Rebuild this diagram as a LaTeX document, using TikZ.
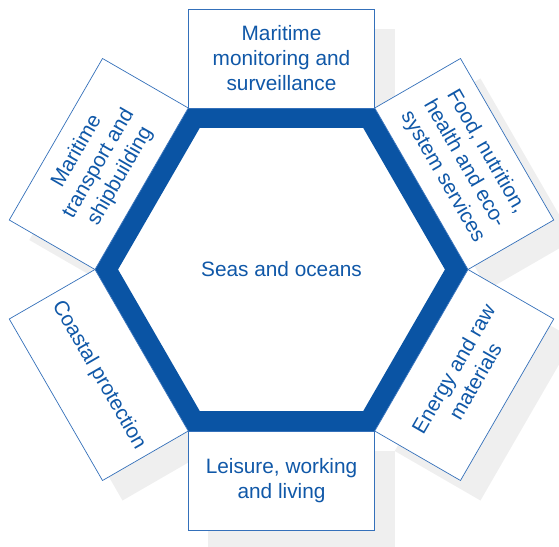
\documentclass[tikz,border=0pt]{standalone}
\usepackage{fontspec}
\setmainfont{Liberation Sans}
\usepackage{xcolor}
\definecolor{hexblue}{RGB}{10,84,164}
\definecolor{textblue}{RGB}{16,88,168}
\definecolor{boxblue}{RGB}{52,112,186}
\definecolor{shadegray}{RGB}{239,239,239}

\begin{document}
\begin{tikzpicture}[x=1pt,y=1pt,
        topic/.style={draw=boxblue, line width=0.7pt, fill=white, text=textblue,
            minimum width=186.5pt, minimum height=99pt, inner sep=0pt, align=center,
            font=\fontsize{20.8}{25}\selectfont},
        boxshadow/.style={fill=shadegray, minimum width=186.5pt, minimum height=99pt, inner sep=0pt}]
        \useasboundingbox (-281.5,-276.5) rectangle (277.5,269.5);
        % shadows
        \node[boxshadow, rotate=0] (s1) at ([shift={(20,-20)}]90:211) {};
        \node[boxshadow, rotate=-60] (s2) at ([shift={(20,-20)}]30:211) {};
        \node[boxshadow, rotate=60] (s3) at ([shift={(20,-20)}]-30:211) {};
        \node[boxshadow, rotate=0] (s4) at ([shift={(20,-20)}]-90:211) {};
        \node[boxshadow, rotate=-60] (s5) at ([shift={(20,-20)}]-150:211) {};
        \node[boxshadow, rotate=60] (s6) at ([shift={(20,-20)}]150:211) {};
        % hexagon
        \draw [hexblue, line width=20pt, fill=white, miter limit=10] (0:175) -- (60:175) -- (120:175) -- (180:175) -- (240:175) -- (300:175) -- cycle;
        \node (sea) at (0,0) [text=textblue, font=\fontsize{20.8}{25}\selectfont] {Seas and oceans};
        % topics
        \node[topic, rotate=0] (monitor) at (90:211) {Maritime\\monitoring and\\surveillance};
        \node[topic, rotate=-60] (food) at (30:211) {Food, nutrition,\\health and eco-\\system services};
        \node[topic, rotate=60] (energy) at (-30:211) {Energy and raw\\materials};
        \node[topic, rotate=0] (leisure) at (-90:211) {Leisure, working\\and living};
        \node[topic, rotate=-60] (coast) at (-150:211) {Coastal protection};
        \node[topic, rotate=60] (transport) at (150:211) {Maritime\\transport and\\shipbuilding};
\end{tikzpicture}
\end{document}
